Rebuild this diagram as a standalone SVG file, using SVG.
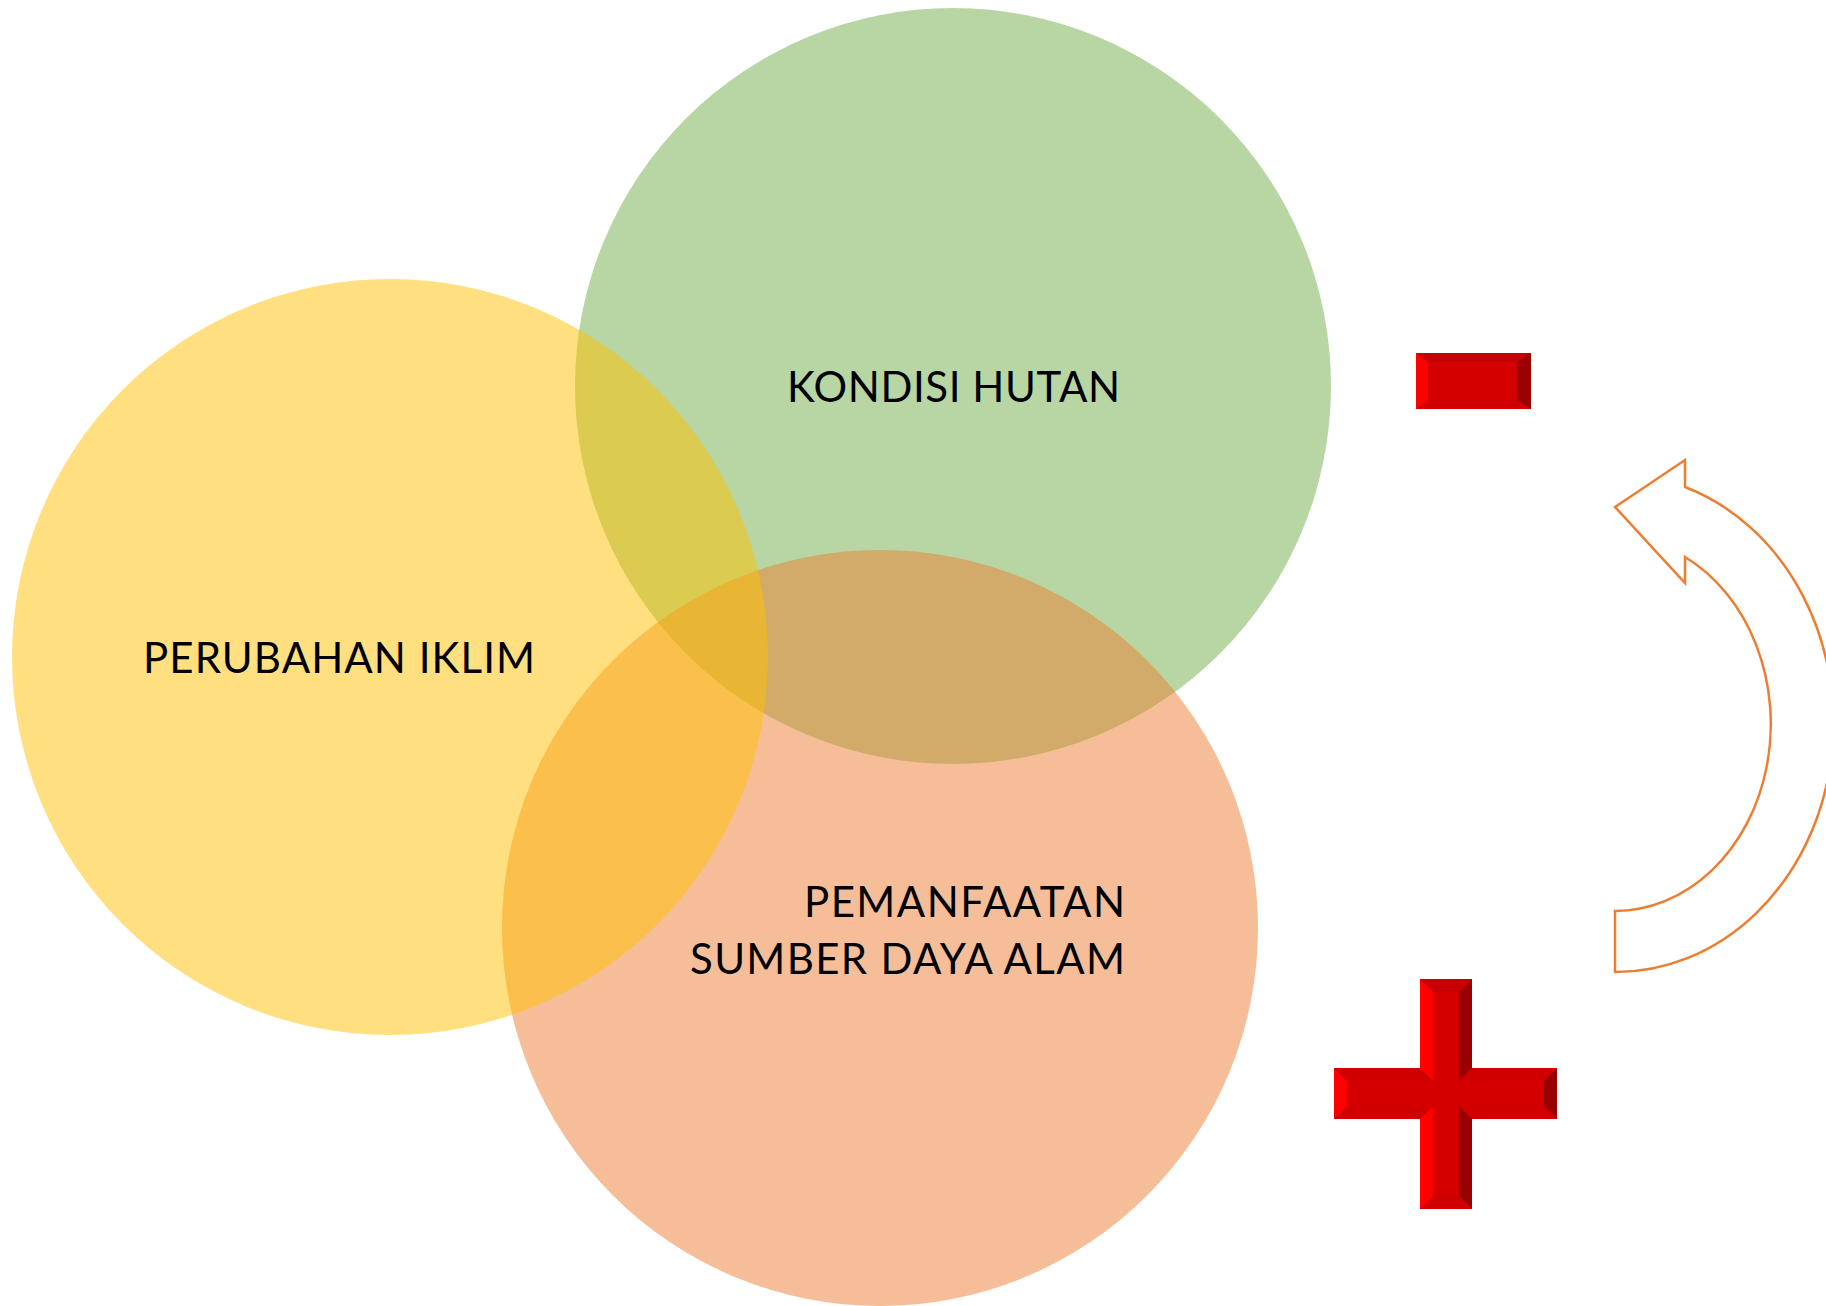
<svg xmlns="http://www.w3.org/2000/svg" width="1826" height="1306" viewBox="0 0 1826 1306">
  <style>
    .lbl { font-family: Lato, "Open Sans", "Liberation Sans", sans-serif; font-size: 42px; fill: #000000; }
    .face { fill: #D40000; }
    .bl { fill: #FF0000; }
    .br { fill: #990000; }
    .bt { fill: #C60000; }
    .bb { fill: #D00000; }
  </style>
  <rect width="1826" height="1306" fill="#FFFFFF"/>

  <g id="node-kondisi-hutan">
    <circle cx="953" cy="386" r="378" fill="#70AD47" fill-opacity="0.5"/>
  </g>
  <g id="node-pemanfaatan">
    <circle cx="880" cy="928" r="378" fill="#ED7D31" fill-opacity="0.5"/>
  </g>
  <g id="node-perubahan-iklim">
    <circle cx="390" cy="657" r="378" fill="#FFC000" fill-opacity="0.5"/>
  </g>

  <g id="labels">
    <text class="lbl" x="787" y="402" textLength="333" lengthAdjust="spacing">KONDISI HUTAN</text>
    <text class="lbl" x="143" y="673" textLength="392" lengthAdjust="spacing">PERUBAHAN IKLIM</text>
    <text class="lbl" x="804" y="917" textLength="321" lengthAdjust="spacing">PEMANFAATAN</text>
    <text class="lbl" x="690" y="974" textLength="435" lengthAdjust="spacing">SUMBER DAYA ALAM</text>
  </g>

  <g id="minus-sign">
    <rect class="face" x="1416" y="353" width="115" height="56"/>
    <polygon class="bt" points="1416,353 1531,353 1518,362 1428,362"/>
    <polygon class="bb" points="1416,409 1531,409 1518,400 1428,400"/>
    <polygon class="bl" points="1416,353 1428,362 1428,400 1416,409"/>
    <polygon class="br" points="1531,353 1517,362 1517,400 1531,409"/>
  </g>

  <g id="plus-sign">
    <polygon class="face" points="1420,979 1472,979 1472,1068 1557,1068 1557,1119 1472,1119 1472,1209 1420,1209 1420,1119 1334,1119 1334,1068 1420,1068"/>
    <polygon class="bt" points="1420,979 1472,979 1459,992 1433,992"/>
    <polygon class="br" points="1472,979 1472,1068 1459,1081 1459,992"/>
    <polygon class="bb" points="1472,1068 1557,1068 1544,1081 1459,1081"/>
    <polygon class="br" points="1557,1068 1557,1119 1544,1106 1544,1081"/>
    <polygon class="bb" points="1557,1119 1472,1119 1459,1106 1544,1106"/>
    <polygon class="br" points="1472,1119 1472,1209 1459,1196 1459,1106"/>
    <polygon class="bb" points="1472,1209 1420,1209 1433,1196 1459,1196"/>
    <polygon class="bl" points="1420,1209 1420,1119 1433,1106 1433,1196"/>
    <polygon class="bb" points="1420,1119 1334,1119 1347,1106 1433,1106"/>
    <polygon class="bl" points="1334,1119 1334,1068 1347,1081 1347,1106"/>
    <polygon class="bb" points="1334,1068 1420,1068 1433,1081 1347,1081"/>
    <polygon class="bl" points="1420,1068 1420,979 1433,992 1433,1081"/>
  </g>

  <g id="connectors">
    <path d="M 1615 507 L 1685 460 L 1685 487 A 218 249 0 0 1 1615 972 L 1615 911 A 156 187 0 0 0 1685 557 L 1685 583 Z" fill="none" stroke="#ED7D31" stroke-width="2.5" stroke-linejoin="miter"/>
  </g>
</svg>
